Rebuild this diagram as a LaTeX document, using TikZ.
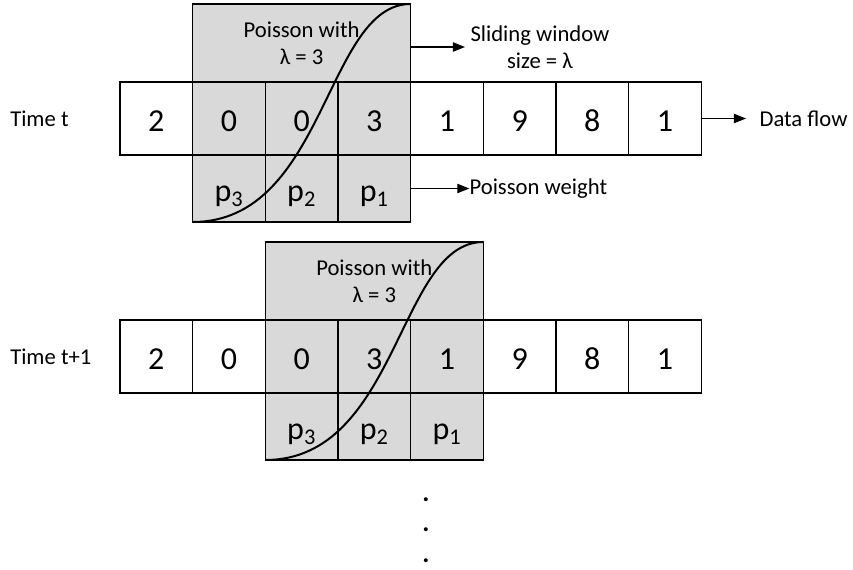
\documentclass[tikz,border=0pt]{standalone}
\usepackage{fontspec}
\setmainfont{Carlito}
\usepackage{xcolor}
\usetikzlibrary{arrows.meta, positioning, calc}

\definecolor{wingray}{HTML}{D9D9D9}

\begin{document}
\begin{tikzpicture}[
  x=0.75pt, y=-0.75pt,
  cell/.style={draw, line width=0.8pt, minimum width=54.5pt, minimum height=54.75pt,
               inner sep=0pt, outer sep=0pt, text height=20.2pt, text depth=0pt,
               font=\fontsize{24}{28}\selectfont},
  wcell/.style={cell, minimum height=50.25pt, text height=18.8pt},
  win/.style={draw, fill=wingray, line width=0.8pt, minimum width=163.5pt,
              minimum height=163.5pt, inner sep=0pt, outer sep=0pt},
  lbl/.style={font=\fontsize{17}{20}\selectfont, align=center, inner sep=0pt},
  arr/.style={-{Triangle[length=9pt,width=7pt]}, line width=0.8pt},
  cdf/.style={line width=1.5pt},
  node distance=0pt
]
  \useasboundingbox (0,0) rectangle (853,570);

  % time t
  \node[cell] (a1) at (156.3,118.5) {2};
  \node[win, anchor=south west] (win1) at ([yshift=-50.25pt]a1.south east) {};
  \node[cell, right=of a1] (a2) {0};
  \node[cell, right=of a2] (a3) {0};
  \node[cell, right=of a3] (a4) {3};
  \node[cell, right=of a4] (a5) {1};
  \node[cell, right=of a5] (a6) {9};
  \node[cell, right=of a6] (a7) {8};
  \node[cell, right=of a7] (a8) {1};
  \node[wcell, below=of a2] (p3a) {p\textsubscript{3}};
  \node[wcell, below=of a3] (p2a) {p\textsubscript{2}};
  \node[wcell, below=of a4] (p1a) {p\textsubscript{1}};
  \draw[cdf] (win1.south west) .. controls +(133,0) and +(-85,0) .. (win1.north east);
  \node[lbl] (pois1) at ($(win1.north)!0.5!(a3.north)$) {Poisson with\\λ = 3};

  \node[lbl, anchor=west] (tt) at (10,118.5) {Time t};
  \node[lbl] (slide) at (540,47) {Sliding window\\size = λ};
  \node[lbl, right=43.5pt of a8] (flow) {Data flow};
  \node[lbl, right=44pt of p1a] (wt) {Poisson weight};
  \draw[arr, shorten >=4pt] (slide.west -| win1.east) -- (slide.west);
  \draw[arr, shorten >=10pt] (a8) -- (flow);
  \draw[arr] (p1a) -- (wt);

  % time t+1
  \node[cell] (b1) at (156.3,356.5) {2};
  \node[cell, right=of b1] (b2) {0};
  \node[win, anchor=south west] (win2) at ([yshift=-50.25pt]b2.south east) {};
  \node[cell, right=of b2] (b3) {0};
  \node[cell, right=of b3] (b4) {3};
  \node[cell, right=of b4] (b5) {1};
  \node[cell, right=of b5] (b6) {9};
  \node[cell, right=of b6] (b7) {8};
  \node[cell, right=of b7] (b8) {1};
  \node[wcell, below=of b3] (p3b) {p\textsubscript{3}};
  \node[wcell, below=of b4] (p2b) {p\textsubscript{2}};
  \node[wcell, below=of b5] (p1b) {p\textsubscript{1}};
  \draw[cdf] (win2.south west) .. controls +(133,0) and +(-85,0) .. (win2.north east);
  \node[lbl] (pois2) at ($(win2.north)!0.5!(b4.north)$) {Poisson with\\λ = 3};

  \node[lbl, anchor=west] (tt1) at (10,356.5) {Time t+1};

  \node[lbl, font=\bfseries\fontsize{20}{23}\selectfont] (dots) at (426,530) {.\\.\\.};
\end{tikzpicture}
\end{document}
